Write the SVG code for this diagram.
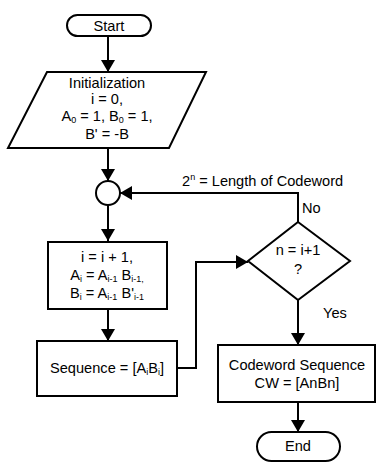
<svg xmlns="http://www.w3.org/2000/svg" width="376" height="466" viewBox="0 0 376 466">
<style>
.s{fill:#fff;stroke:#000;stroke-width:2}
.t{font-family:"Liberation Sans",Arial,sans-serif;font-size:14.6px;fill:#000;text-anchor:middle}
.l{font-family:"Liberation Sans",Arial,sans-serif;font-size:14.6px;fill:#000}
.c{fill:none;stroke:#000;stroke-width:2}
.sub{font-size:9px}
</style>
<defs>
<marker id="a" markerUnits="userSpaceOnUse" markerWidth="12" markerHeight="16" refX="12" refY="7" orient="auto">
<path d="M0,0 L12,7 L0,14 z" fill="#000"/>
</marker>
</defs>
<g id="connectors">
<path class="c" d="M108,36 V72" marker-end="url(#a)"/>
<path class="c" d="M108,148 V181" marker-end="url(#a)"/>
<path class="c" d="M108,205 V241" marker-end="url(#a)"/>
<path class="c" d="M108,309 V341" marker-end="url(#a)"/>
<path class="c" d="M177,368 H196 V262 H248" marker-end="url(#a)"/>
<path class="c" d="M298,222 V193 H120" marker-end="url(#a)"/>
<path class="c" d="M298,300 V345" marker-end="url(#a)"/>
<path class="c" d="M298,402 V432" marker-end="url(#a)"/>
<text class="l" x="182" y="186">2<tspan class="sub" dy="-6">n</tspan><tspan dy="6"> = Length of Codeword</tspan></text>
<text class="l" x="302" y="213">No</text>
<text class="l" x="323" y="318">Yes</text>
</g>
<g id="start">
<rect class="s" x="67" y="15" width="84" height="21" rx="10.5"/>
<text class="t" x="109" y="31">Start</text>
</g>
<g id="init">
<polygon class="s" points="47,72 206,72 169,148 8,148"/>
<text class="t" x="107" y="88">Initialization</text>
<text class="t" x="107" y="104">i = 0,</text>
<text class="t" x="107" y="121">A<tspan class="sub" dy="2">0</tspan><tspan dy="-2"> = 1, B</tspan><tspan class="sub" dy="2">0</tspan><tspan dy="-2"> = 1,</tspan></text>
<text class="t" x="107" y="139">B' = -B</text>
</g>
<g id="merge">
<circle class="s" cx="108" cy="193" r="12"/>
</g>
<g id="update">
<rect class="s" x="48" y="242" width="119" height="67"/>
<text class="t" x="107" y="262">i = i + 1,</text>
<text class="t" x="107" y="280">A<tspan class="sub" dy="2">i</tspan><tspan dy="-2"> = A</tspan><tspan class="sub" dy="2">i-1</tspan><tspan dy="-2"> B</tspan><tspan class="sub" dy="2">i-1,</tspan></text>
<text class="t" x="107" y="298">B<tspan class="sub" dy="2">i</tspan><tspan dy="-2"> = A</tspan><tspan class="sub" dy="2">i-1</tspan><tspan dy="-2"> B'</tspan><tspan class="sub" dy="2">i-1</tspan></text>
</g>
<g id="sequence">
<rect class="s" x="37" y="341" width="140" height="55"/>
<text class="t" x="107" y="373">Sequence = [A<tspan class="sub" dy="2">i</tspan><tspan dy="-2">B</tspan><tspan class="sub" dy="2">i</tspan><tspan dy="-2">]</tspan></text>
</g>
<g id="decision">
<polygon class="s" points="298,222 350,261 298,300 248,261"/>
<text class="t" x="298" y="255">n = i+1</text>
<text class="t" x="298" y="274">?</text>
</g>
<g id="codeword">
<rect class="s" x="218" y="345" width="157" height="57"/>
<text class="t" x="297" y="370">Codeword Sequence</text>
<text class="t" x="297" y="388">CW = [AnBn]</text>
</g>
<g id="end">
<rect class="s" x="257" y="432" width="83" height="29" rx="14.5"/>
<text class="t" x="298" y="451">End</text>
</g>
</svg>
